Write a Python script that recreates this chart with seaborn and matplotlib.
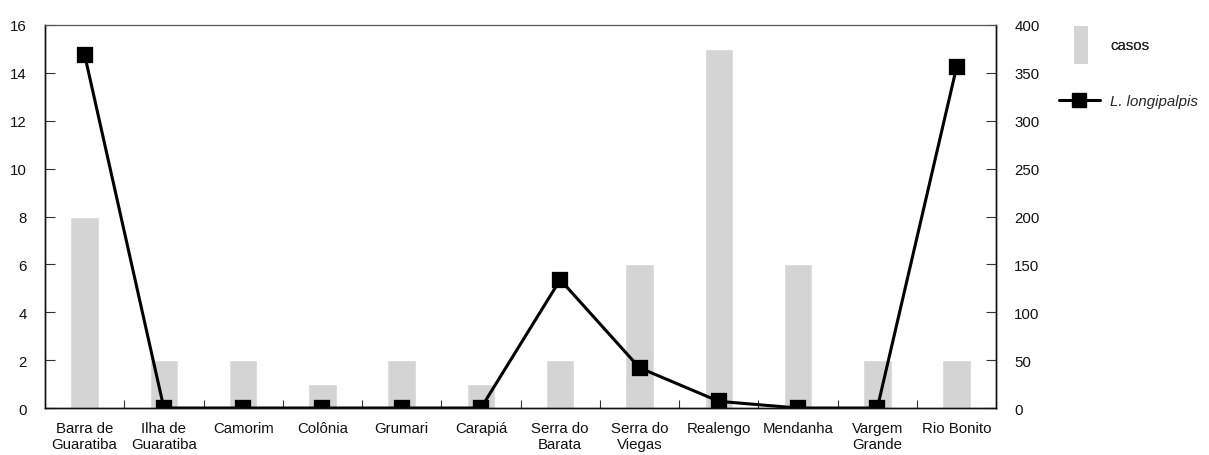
import matplotlib
matplotlib.use("Agg")
import matplotlib.pyplot as plt
import seaborn as sns
import pandas as pd
from matplotlib.patches import Patch
from matplotlib.lines import Line2D
from matplotlib.ticker import FixedLocator

categories = ["Barra de\nGuaratiba", "Ilha de\nGuaratiba", "Camorim", "Colônia", "Grumari",
              "Carapiá", "Serra do\nBarata", "Serra do\nViegas", "Realengo", "Mendanha",
              "Vargem\nGrande", "Rio Bonito"]
casos = [8, 2, 2, 1, 2, 1, 2, 6, 15, 6, 2, 2]
longipalpis = [369, 0, 0, 0, 0, 0, 134, 42, 7, 0, 0, 356]

left_ticks = list(range(0, 17, 2))
right_ticks = list(range(0, 401, 50))

sns.set_theme(style="white")
plt.rcParams['font.family'] = ['Liberation Sans', 'DejaVu Sans']
FS = 10.8
plt.rcParams['font.size'] = FS

df = pd.DataFrame({"local": categories, "casos": casos, "lp": longipalpis})

fig = plt.figure(figsize=(12.09, 4.56), dpi=100)
ax = fig.add_subplot(111)
fig.subplots_adjust(left=0.0372, right=0.824, top=0.943, bottom=0.103)

sns.barplot(data=df, x="local", y="casos", color="#d4d4d4", saturation=1,
            width=0.36, ax=ax, zorder=1)
ax2 = ax.twinx()
sns.pointplot(data=df, x="local", y="lp", color="black", markers="s",
              markersize=9.5, linewidth=2.2, ax=ax2)

n = len(categories)
ax.set_xlim(-0.5, n - 0.5)
ax.set_ylim(0, 16)
ax2.set_ylim(0, 400)
ax.set_yticks(left_ticks)
ax2.set_yticks(right_ticks)
ax.set_xlabel("")
ax.set_ylabel("")
ax2.set_xlabel("")
ax2.set_ylabel("")

ax.set_xticks(range(n))
ax.set_xticklabels(categories, linespacing=1.2)
ax.xaxis.set_minor_locator(FixedLocator([i + 0.5 for i in range(n - 1)]))
ax.tick_params(axis="x", which="major", length=0, pad=9, labelsize=FS, colors="#111111")
ax.tick_params(axis="x", which="minor", direction="in", length=6, width=0.8,
               color="#333333", bottom=True)
ax.tick_params(axis="y", direction="in", length=7, width=0.8, color="#333333",
               labelsize=FS, pad=13, labelcolor="#111111")
ax2.tick_params(axis="y", direction="in", length=7, width=0.8, color="#333333",
                labelsize=FS, pad=13, labelcolor="#111111")
ax2.tick_params(axis="x", length=0)

for a in (ax, ax2):
    for side in ["left", "right", "bottom"]:
        a.spines[side].set_visible(True)
        a.spines[side].set_color("#111111")
        a.spines[side].set_linewidth(1.0)
    a.spines["top"].set_visible(True)
    a.spines["top"].set_color("#555555")
    a.spines["top"].set_linewidth(0.8)

leg1 = fig.legend(handles=[Patch(facecolor="#d4d4d4", edgecolor="none")],
                  labels=["casos"], loc="upper left",
                  bbox_to_anchor=(0.888, 0.94), frameon=False,
                  handlelength=0.95, handleheight=3.5, handletextpad=1.5,
                  fontsize=FS, borderaxespad=0, borderpad=0)
leg2 = fig.legend(handles=[Line2D([], [], color="black", marker="s", markersize=9.5,
                                  linewidth=2.2)],
                  labels=["L. longipalpis"], loc="upper left",
                  bbox_to_anchor=(0.876, 0.792), frameon=False,
                  handlelength=2.7, handletextpad=0.7,
                  prop={"style": "italic", "size": FS}, borderaxespad=0, borderpad=0)
fig.add_artist(leg1)

fig.savefig("out.png", dpi=100)
